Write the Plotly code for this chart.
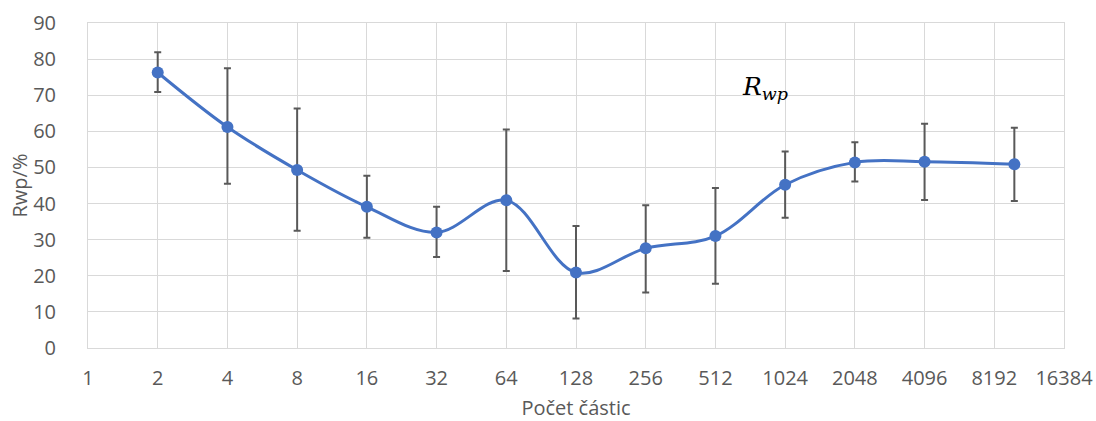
import plotly.graph_objects as go
import math

# Data
particles = [2, 4, 8, 16, 32, 64, 128, 256, 512, 1024, 2048, 4096, 10000]
rwp = [76.3, 61.2, 49.3, 39.1, 32.0, 40.9, 20.9, 27.6, 31.0, 45.2, 51.4, 51.6, 50.9]
err_plus = [5.6, 16.3, 17.0, 8.6, 7.1, 19.6, 12.9, 11.9, 13.3, 9.2, 5.6, 10.5, 10.1]
err_minus = [5.4, 15.7, 16.8, 8.6, 6.8, 19.6, 12.7, 12.2, 13.2, 9.1, 5.3, 10.6, 10.2]
x_ticks = [1, 2, 4, 8, 16, 32, 64, 128, 256, 512, 1024, 2048, 4096, 8192, 16384]
x_tick_labels = [str(v) for v in x_ticks]
y_ticks = list(range(0, 91, 10))

BLUE = "#4472C4"
GRID = "#d9d9d9"
TXT = "#595959"
FONT = "Open Sans"
FS = 20

fig = go.Figure()
fig.add_trace(go.Scatter(
    x=particles, y=rwp,
    mode="lines+markers",
    line=dict(color=BLUE, width=3, shape="spline", smoothing=1.0),
    marker=dict(color=BLUE, size=12),
    error_y=dict(type="data", symmetric=False, array=err_plus, arrayminus=err_minus,
                 color=TXT, thickness=2, width=3.5),
    showlegend=False,
    hoverinfo="x+y",
))

fig.add_annotation(
    xref="paper", yref="paper", x=0.668, y=0.80,
    xanchor="left", yanchor="middle",
    text="<i>R</i><sub><i>wp</i></sub>",
    showarrow=False,
    font=dict(family="DejaVu Serif", size=25, color="#000000"),
)

fig.update_layout(
    width=1096, height=421,
    margin=dict(l=88, r=32, t=23, b=73, autoexpand=False),
    paper_bgcolor="white", plot_bgcolor="white",
    font=dict(family=FONT, size=FS, color=TXT),
    xaxis=dict(
        type="log",
        range=[0, math.log10(16384)],
        tickmode="array", tickvals=x_ticks, ticktext=x_tick_labels,
        showgrid=True, gridcolor=GRID, gridwidth=1,
        showline=True, linecolor=GRID, linewidth=1, mirror=True,
        zeroline=False, automargin=False,
        ticks="outside", ticklen=12, tickcolor="rgba(0,0,0,0)",
        tickfont=dict(family=FONT, size=FS, color=TXT),
        title=dict(text="Počet částic", font=dict(family=FONT, size=FS, color=TXT), standoff=19),
    ),
    yaxis=dict(
        range=[0, 90],
        tickmode="array", tickvals=y_ticks,
        showgrid=True, gridcolor=GRID, gridwidth=1,
        showline=True, linecolor=GRID, linewidth=1, mirror=True,
        zeroline=False, automargin=False,
        ticks="outside", ticklen=27, tickcolor="rgba(0,0,0,0)",
        tickfont=dict(family=FONT, size=FS, color=TXT),
        title=dict(text="Rwp/%", font=dict(family=FONT, size=FS, color=TXT), standoff=0),
    ),
)

fig.write_html("out.html", config={"displayModeBar": False},
               post_script="document.body.style.margin='0px';")
